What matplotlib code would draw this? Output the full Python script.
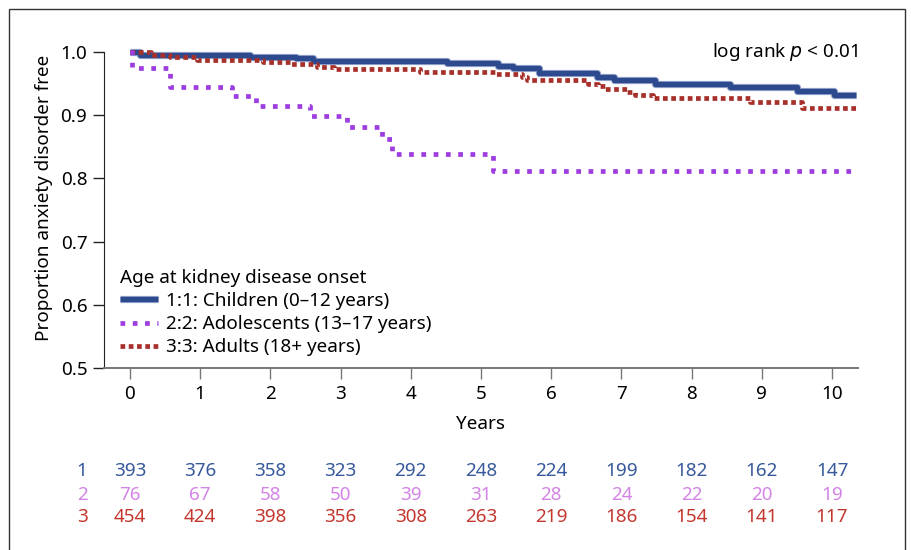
import matplotlib
matplotlib.use("Agg")
import matplotlib.pyplot as plt
import matplotlib.patches as mpatches
import matplotlib.patheffects as pe
from matplotlib.transforms import blended_transform_factory

plt.rcParams['font.family'] = ['Noto Sans', 'DejaVu Sans']

# ---- data ----
children_t = [0, 0.14, 1.71, 2.37, 2.61, 4.51, 5.24, 5.46, 5.82, 6.65, 6.89, 7.48, 8.55, 9.50, 10.03, 10.34]
children_s = [1.0, 0.995, 0.9925, 0.990, 0.986, 0.983, 0.978, 0.975, 0.967, 0.961, 0.955, 0.949, 0.944, 0.938, 0.932, 0.932]

adol_t = [0, 0.03, 0.57, 1.45, 1.80, 2.56, 3.09, 3.59, 3.73, 5.17, 10.34]
adol_s = [1.0, 0.974, 0.945, 0.930, 0.915, 0.899, 0.881, 0.862, 0.839, 0.812, 0.812]

adult_t = [0, 0.30, 0.57, 0.95, 1.90, 2.28, 2.66, 2.90, 4.13, 5.22, 5.58, 5.65, 6.52, 6.67, 6.77, 7.08, 7.19, 7.45, 8.83, 9.57, 10.34]
adult_s = [1.0, 0.996, 0.9925, 0.988, 0.985, 0.981, 0.977, 0.973, 0.969, 0.965, 0.961, 0.956, 0.950, 0.946, 0.941, 0.937, 0.932, 0.927, 0.921, 0.912, 0.912]

labels = ["1:1: Children (0\u201312 years)", "2:2: Adolescents (13\u201317 years)", "3:3: Adults (18+ years)"]
risk_years = list(range(0, 11))
risk_children = [393, 376, 358, 323, 292, 248, 224, 199, 182, 162, 147]
risk_adol = [76, 67, 58, 50, 39, 31, 28, 24, 22, 20, 19]
risk_adult = [454, 424, 398, 356, 308, 263, 219, 186, 154, 141, 117]
x_ticks = list(range(0, 11))
y_ticks = [0.5, 0.6, 0.7, 0.8, 0.9, 1.0]

c_blue = '#2e4a8e'
c_purple = '#9d3ce0'
c_red = '#a8302a'
t_blue = '#37599b'
t_pink = '#d484e6'
t_red = '#c4372e'
FS = 13.6

W, H = 911, 550
fig = plt.figure(figsize=(W / 100, H / 100), dpi=100)
ax = fig.add_axes([104 / W, 1 - 368 / H, (858 - 104) / W, (368 - 39.4) / H])
AH = 368 - 39.4

ax.step(children_t, children_s, where='post', color=c_blue, lw=3.8, label=labels[0],
        solid_capstyle='butt', zorder=3,
        path_effects=[pe.Stroke(linewidth=5.2, foreground='#9aaad0'), pe.Normal()])
ax.step(adult_t, adult_s, where='post', color=c_red, lw=3.4, linestyle=(0, (1.0, 0.75)),
        label=labels[2], zorder=4)
ax.step(adol_t, adol_s, where='post', color=c_purple, lw=3.4, linestyle=(0, (1.0, 1.6)),
        label=labels[1], zorder=5)

ax.set_xlim(-0.37, 10.37)
ax.set_ylim(0.5, 1.02)
ax.spines['top'].set_visible(False)
ax.spines['right'].set_visible(False)
ax.spines['left'].set_bounds(0.5, 1.0)
ax.spines['left'].set_color('#222222')
ax.spines['bottom'].set_color('#777777')
ax.spines['bottom'].set_linewidth(1.4)
ax.set_xticks(x_ticks)
ax.set_yticks(y_ticks)
ax.set_yticklabels([f"{v:.1f}" for v in y_ticks])
ax.tick_params(axis='y', length=8, width=1, color='#222222', labelsize=FS, pad=4)
ax.tick_params(axis='x', length=8, width=1, color='#777777', labelsize=FS, pad=4)

ax.set_xlabel("Years", fontsize=FS)
ax.xaxis.set_label_coords(0.5, -(415 - 368) / AH)
ax.set_ylabel("Proportion anxiety disorder free", fontsize=FS)
ax.yaxis.set_label_coords((53 - 104) / 754, (368 - 198) / AH)

ax.text(1.0, 1.0, "log rank $p$ < 0.01",
        transform=blended_transform_factory(ax.transAxes, ax.transData),
        ha='right', va='center', fontsize=FS)

h, l = ax.get_legend_handles_labels()
order = [0, 2, 1]
leg = ax.legend([h[i] for i in order], [l[i] for i in order],
                title="Age at kidney disease onset", title_fontsize=FS, fontsize=FS,
                loc='upper left', bbox_to_anchor=((120 - 104) / 754, (368 - 269) / AH),
                frameon=False, borderpad=0, borderaxespad=0, handlelength=2.0,
                handletextpad=0.45, labelspacing=0.27, alignment='left')

# risk table
tr = blended_transform_factory(ax.transData, fig.transFigure)
rows = [(risk_children, t_blue, "1", 471), (risk_adol, t_pink, "2", 494.5), (risk_adult, t_red, "3", 517.5)]
for vals, col, name, ypix in rows:
    yf = 1 - ypix / H
    fig.text(82 / W, yf, name, color=col, ha='center', va='center', fontsize=FS)
    for yr, v in zip(risk_years, vals):
        ax.text(yr, yf, str(v), transform=tr, color=col, ha='center', va='center', fontsize=FS)

# outer frame
fig.patches.append(mpatches.Rectangle((9 / W, -0.02), (905 - 9) / W, 1.02 - 9 / H,
                                      transform=fig.transFigure, fill=False,
                                      edgecolor='#333333', lw=1.0))

fig.savefig("out.png", dpi=100)
